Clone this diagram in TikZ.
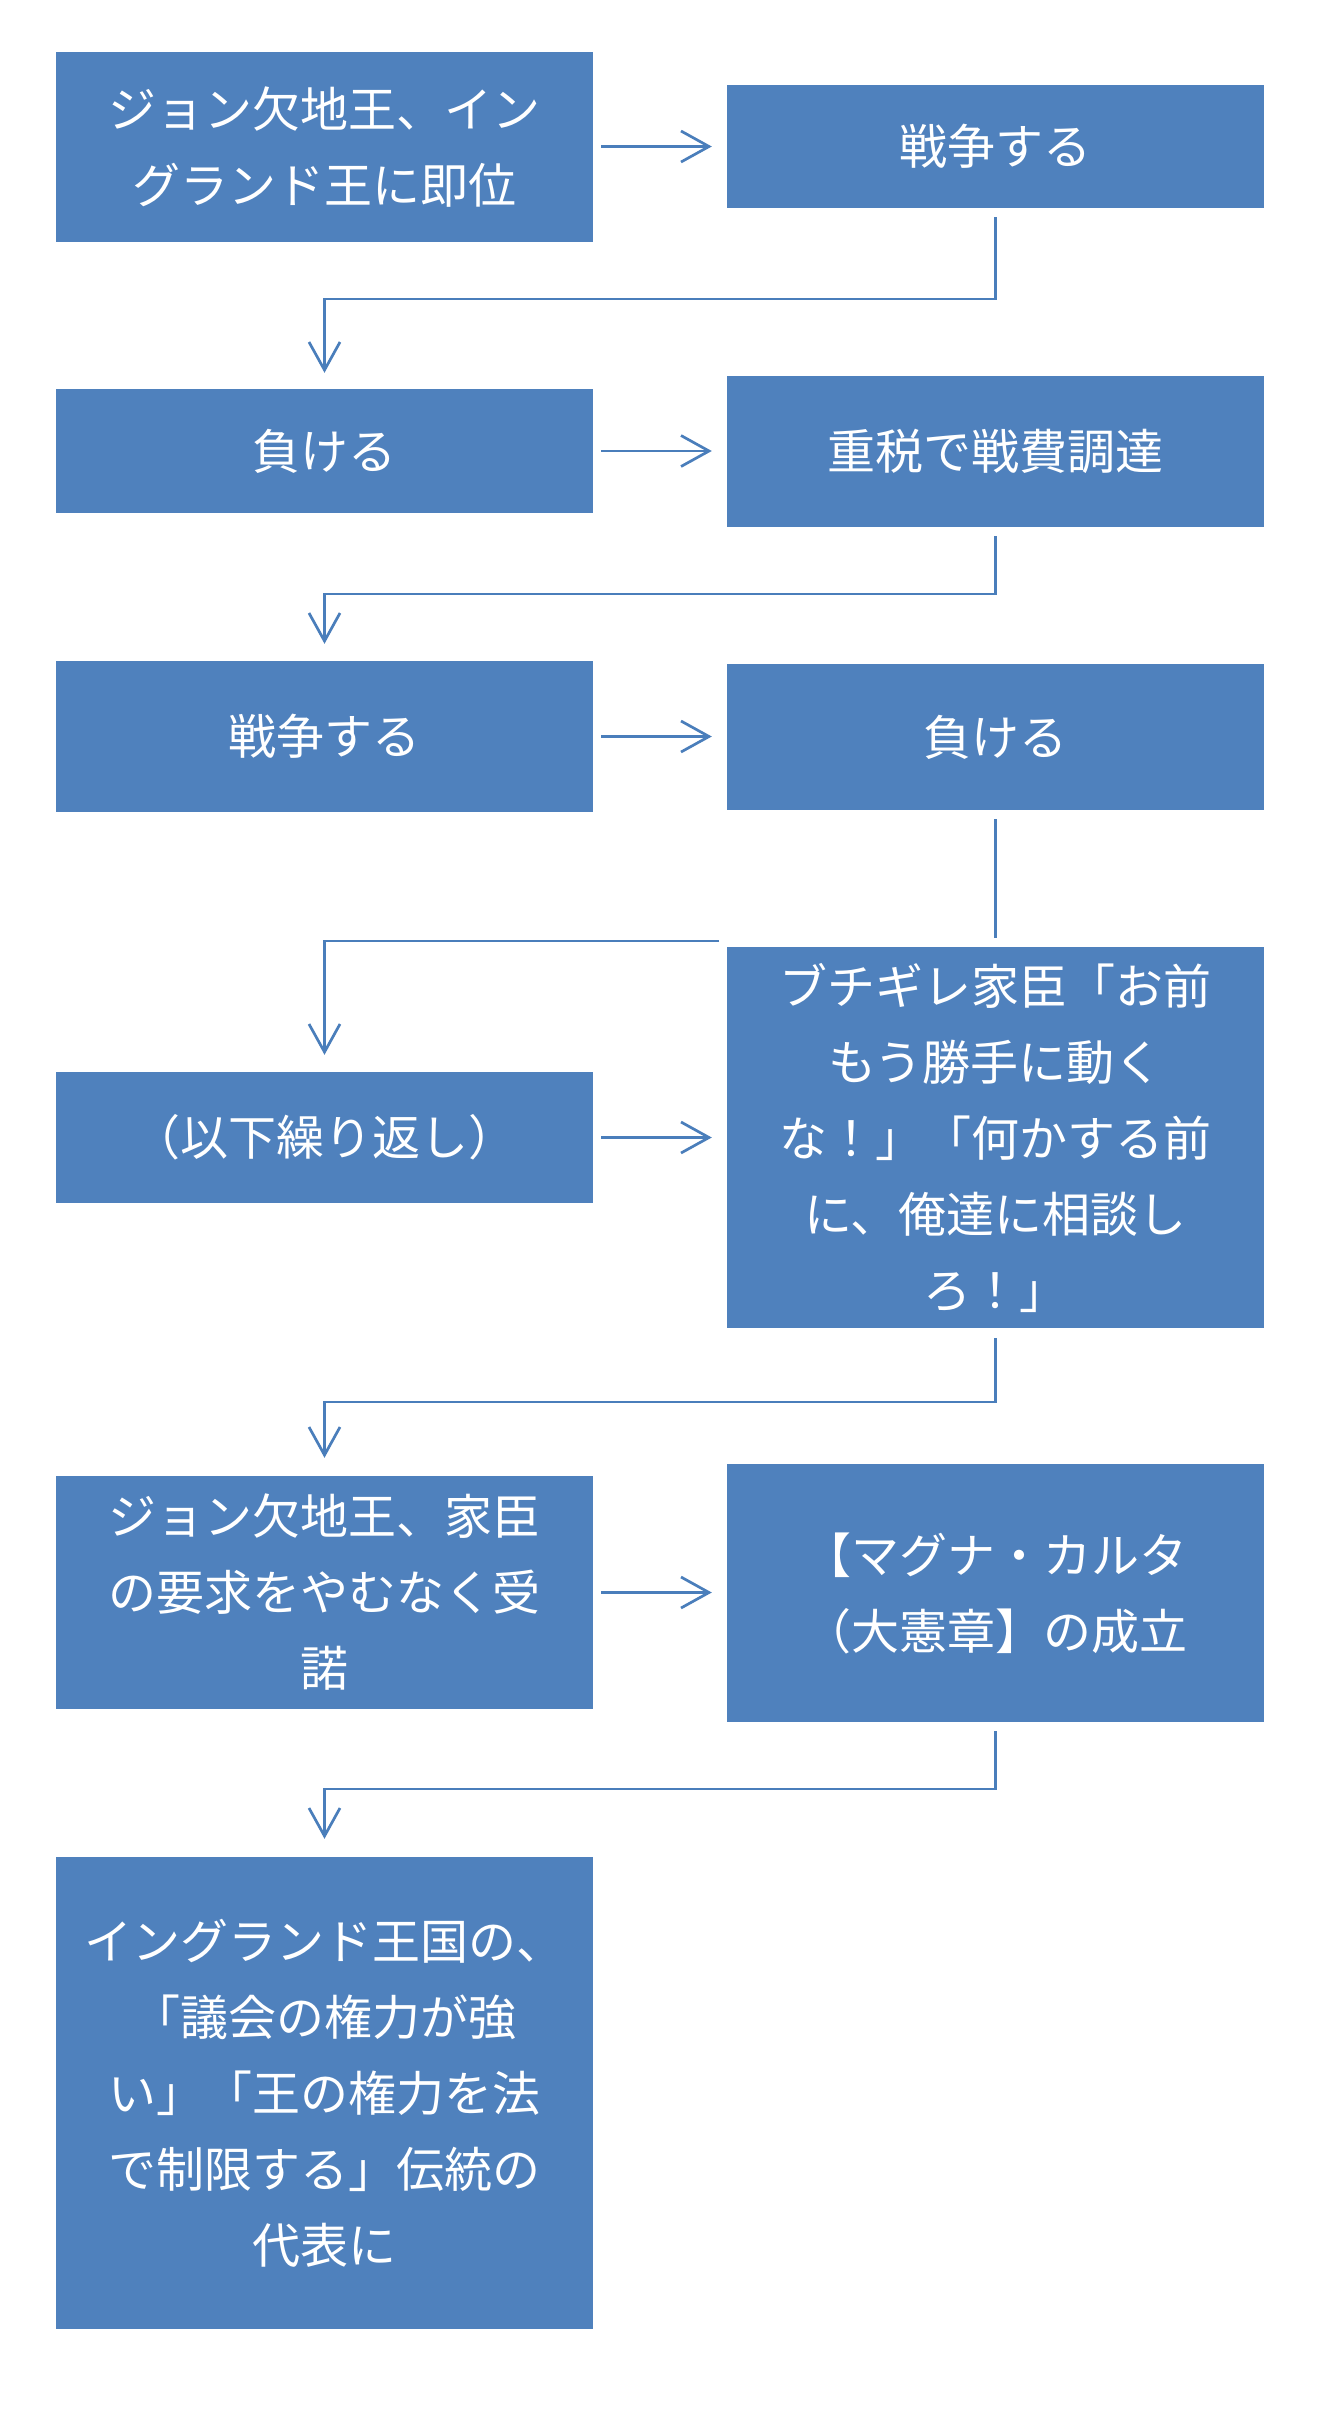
\documentclass[tikz,border=0pt]{standalone}
\usepackage{fontspec}
\newfontfamily\jp{Noto Sans CJK JP}
\usetikzlibrary{arrows.meta}
\definecolor{boxblue}{HTML}{4F81BD}
\definecolor{lineblue}{HTML}{4A7EBB}
\begin{document}
\begin{tikzpicture}[x=1pt,y=-1pt,
  box/.style={fill=boxblue, draw=none, minimum width=537pt, text=white, align=center,
    inner sep=0pt, font=\jp\fontsize{48}{76}\selectfont},
  conn/.style={draw=lineblue, line width=2.7pt},
  arr/.style={conn, -{Straight Barb[length=28pt,width=31pt,line width=2.7pt]}},
]
\useasboundingbox[fill=white] (0,0) rectangle (1333,2421);

\node[box, minimum height=190pt] (b1) at (324.5,147) {ジョン欠地王、イン\\グランド王に即位};
\node[box, minimum height=123pt] (b2) at (995.5,146.5) {戦争する};
\node[box, minimum height=124pt] (b3) at (324.5,451) {負ける};
\node[box, minimum height=151pt] (b4) at (995.5,451.5) {重税で戦費調達};
\node[box, minimum height=151pt] (b5) at (324.5,736.5) {戦争する};
\node[box, minimum height=146pt] (b6) at (995.5,737) {負ける};
\node[box, minimum height=131pt] (b7) at (324.5,1137.5) {（以下繰り返し）};
\node[box, minimum height=381pt] (b8) at (995.5,1137.5) {ブチギレ家臣「お前\\もう勝手に動く\\な！」「何かする前\\に、俺達に相談し\\ろ！」};
\node[box, minimum height=233pt] (b9) at (324.5,1592.5) {ジョン欠地王、家臣\\の要求をやむなく受\\諾};
\node[box, minimum height=258pt] (b10) at (995.5,1593) {【マグナ・カルタ\\（大憲章】の成立};
\node[box, minimum height=472pt] (b11) at (324.5,2093) {イングランド王国の、\\「議会の権力が強\\い」「王の権力を法\\で制限する」伝統の\\代表に};

% horizontal arrows
\draw[arr, shorten <=8pt, shorten >=15pt] (b1.east |- b2.west) -- (b2.west);
\draw[arr, shorten <=8pt, shorten >=15pt] (b3.east) -- (b3.east -| b4.west);
\draw[arr, shorten <=8pt, shorten >=15pt] (b5.east) -- (b5.east -| b6.west);
\draw[arr, shorten <=8pt, shorten >=15pt] (b7.east) -- (b7.east -| b8.west);
\draw[arr, shorten <=8pt, shorten >=15pt] (b9.east) -- (b9.east -| b10.west);

% turning connectors
\coordinate (k1) at (995.5,299);
\draw[arr, shorten <=9pt, shorten >=16pt] (b2.south) -- (k1) -| (b3.north);
\coordinate (k2) at (995.5,594);
\draw[arr, shorten <=9pt, shorten >=17pt] (b4.south) -- (k2) -| (b5.north);
\draw[conn, shorten <=9pt, shorten >=9pt] (b6.south) -- (b8.north);
\coordinate (k3) at (719,941);
\draw[arr, shorten >=17pt] (k3) -| (b7.north);
\coordinate (k4) at (995.5,1402);
\draw[arr, shorten <=10pt, shorten >=18pt] (b8.south) -- (k4) -| (b9.north);
\coordinate (k5) at (995.5,1789);
\draw[arr, shorten <=9pt, shorten >=18pt] (b10.south) -- (k5) -| (b11.north);
\end{tikzpicture}
\end{document}
